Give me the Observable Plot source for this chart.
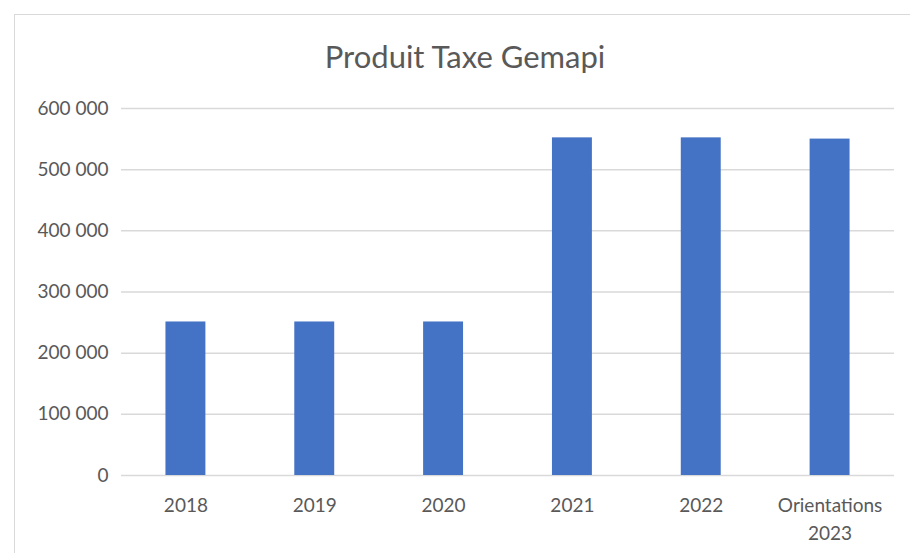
<!DOCTYPE html>
<html>
<head>
<meta charset="utf-8">
<script src="https://cdn.jsdelivr.net/npm/d3@7"></script>
<script src="https://cdn.jsdelivr.net/npm/@observablehq/plot@0.6"></script>
<style>
  html, body { margin: 0; padding: 0; background: #fff; }
  #wrap { position: relative; width: 910px; height: 553px; overflow: hidden; font-family: Lato, "Open Sans", sans-serif; }
  #frame { position: absolute; left: 14px; top: 14px; width: 920px; height: 560px; border: 1px solid #d9d9d9; box-sizing: border-box; }
  #title { position: absolute; left: 0; width: 930px; top: 37px; text-align: center; font-size: 31px; color: #595959; }
  #chart { position: absolute; left: 0; top: 0; }
</style>
</head>
<body>
<div id="wrap">
  <div id="frame"></div>
  <div id="title">Produit Taxe Gemapi</div>
  <div id="chart"></div>
</div>
<script>
const categories = ["2018", "2019", "2020", "2021", "2022", "Orientations\n2023"];
const values = [251000, 251000, 251000, 552000, 552000, 550000];
const yTicks = [0, 100000, 200000, 300000, 400000, 500000, 600000];

const data = categories.map((c, i) => ({category: c, value: values[i]}));
const fmt = v => d3.format(",")(v).replace(/,/g, " ");

const chart = Plot.plot({
  width: 910,
  height: 553,
  marginLeft: 121,
  marginRight: 16,
  marginTop: 108,
  marginBottom: 78,
  style: {fontFamily: "Lato, 'Open Sans', sans-serif", fontSize: "19px", color: "#595959", background: "transparent"},
  x: {domain: categories, paddingInner: 0.69, paddingOuter: 0.345, round: false, label: null},
  y: {domain: [0, 600000], label: null},
  marks: [
    Plot.gridY(yTicks, {stroke: "#d9d9d9", strokeOpacity: 1, strokeWidth: 1.5}),
    Plot.barY(data, {x: "category", y: "value", fill: "#4472c4"}),
    Plot.axisY(yTicks, {tickSize: 0, tickPadding: 13, tickFormat: fmt, fill: "#595959", fontSize: 19}),
    Plot.axisX({tickSize: 0, tickPadding: 16, fill: "#595959", fontSize: 19, lineHeight: 1.5})
  ]
});
document.getElementById("chart").appendChild(chart);
</script>
</body>
</html>
